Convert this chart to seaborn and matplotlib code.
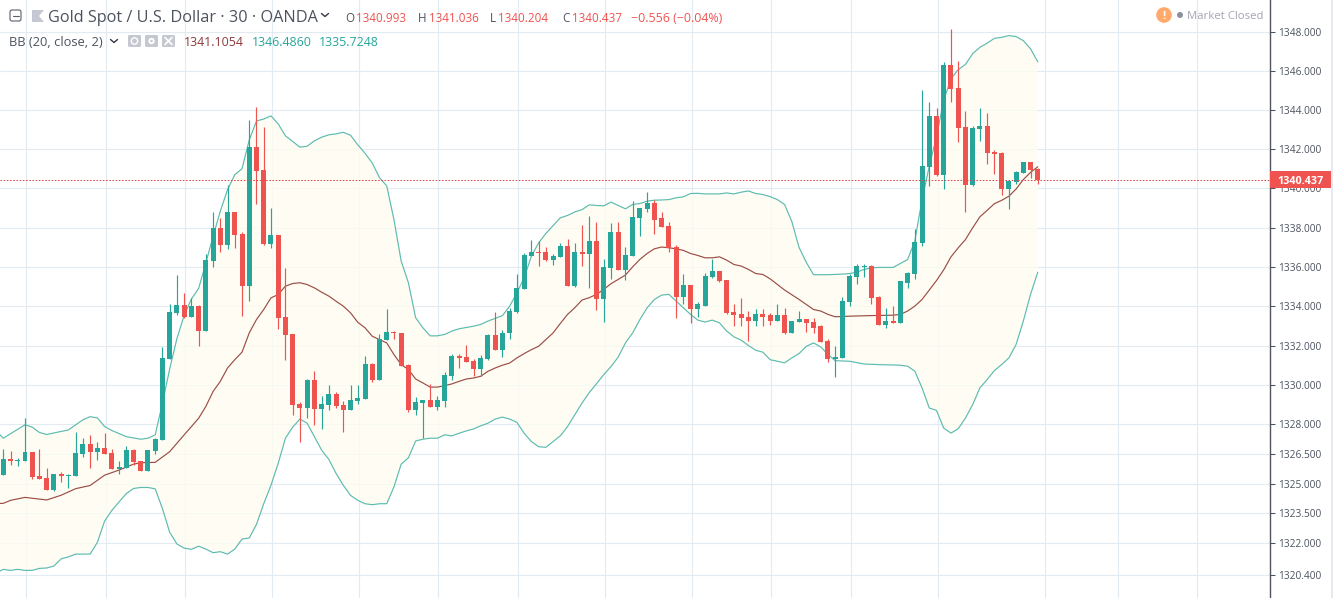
import numpy as np
import pandas as pd
import seaborn as sns
import matplotlib
matplotlib.use('Agg')
import matplotlib.pyplot as plt
from matplotlib.patches import Rectangle, Circle, Polygon, FancyBboxPatch
from matplotlib.ticker import NullLocator

# candles, one value per bar
opens = [1325.43, 1326.25, 1326.15, 1326.15, 1326.60, 1325.38, 1325.28, 1324.67, 1325.48, 1325.40,
         1325.38, 1326.50, 1327.01, 1326.60, 1326.81, 1326.55, 1325.74, 1325.79, 1326.71, 1326.15,
         1325.64, 1326.65, 1327.21, 1331.33, 1333.63, 1334.08, 1333.47, 1334.03, 1332.76, 1336.32,
         1338.00, 1337.09, 1338.82, 1337.65, 1335.00, 1342.13, 1340.96, 1337.14, 1337.60, 1333.47,
         1332.56, 1329.04, 1328.84, 1330.27, 1328.79, 1328.99, 1329.55, 1328.99, 1328.74, 1329.20,
         1329.30, 1331.08, 1330.27, 1332.30, 1332.71, 1332.66, 1331.03, 1328.74, 1329.10, 1329.25,
         1328.89, 1329.20, 1330.47, 1331.49, 1331.44, 1331.23, 1330.83, 1331.34, 1332.51, 1331.79,
         1332.61, 1333.68, 1334.85, 1336.53, 1336.78, 1336.78, 1336.33, 1336.48, 1337.04, 1335.05,
         1336.78, 1336.63, 1337.34, 1334.34, 1335.92, 1337.80, 1335.82, 1336.53, 1338.47, 1338.97,
         1339.28, 1338.47, 1338.06, 1336.99, 1334.44, 1335.10, 1333.88, 1334.03, 1335.46, 1335.77,
         1335.31, 1333.68, 1333.58, 1333.47, 1333.27, 1333.58, 1333.53, 1333.27, 1333.53, 1332.66,
         1333.17, 1333.37, 1333.17, 1332.97, 1332.25, 1331.29, 1331.39, 1334.19, 1335.46, 1335.97,
         1336.02, 1334.44, 1333.02, 1333.22, 1333.12, 1335.20, 1335.66, 1337.24, 1341.11, 1343.70,
         1340.70, 1346.30, 1345.13, 1343.14, 1340.19, 1343.04, 1343.19, 1341.87, 1341.82, 1339.99,
         1340.34, 1340.80, 1341.36, 1340.993]
highs = [1326.76, 1326.65, 1326.32, 1328.33, 1326.60, 1326.76, 1325.79, 1325.48, 1325.59, 1325.48,
         1327.62, 1327.32, 1327.47, 1327.11, 1327.57, 1326.76, 1326.15, 1326.91, 1326.76, 1326.15,
         1326.71, 1327.32, 1331.90, 1334.13, 1335.56, 1334.69, 1334.39, 1334.08, 1336.63, 1338.82,
         1338.51, 1340.19, 1338.82, 1337.80, 1343.50, 1344.16, 1343.15, 1339.02, 1337.60, 1335.92,
         1332.56, 1329.15, 1330.32, 1330.72, 1329.45, 1330.01, 1329.65, 1329.20, 1330.01, 1330.01,
         1331.49, 1331.13, 1332.56, 1333.88, 1332.76, 1332.66, 1331.08, 1329.40, 1329.25, 1330.06,
         1329.45, 1330.67, 1331.59, 1331.59, 1332.05, 1331.34, 1331.54, 1332.56, 1333.68, 1332.81,
         1333.93, 1335.66, 1336.73, 1337.39, 1337.34, 1336.99, 1336.63, 1337.19, 1337.40, 1337.19,
         1338.11, 1338.57, 1338.31, 1336.38, 1338.26, 1338.31, 1336.99, 1339.38, 1339.02, 1339.84,
         1339.43, 1338.82, 1338.31, 1337.09, 1335.66, 1335.10, 1334.19, 1335.71, 1336.38, 1335.77,
         1335.31, 1334.09, 1334.39, 1333.73, 1333.83, 1333.83, 1333.63, 1334.09, 1333.93, 1333.22,
         1333.73, 1333.37, 1333.42, 1333.02, 1332.35, 1331.95, 1334.49, 1335.66, 1336.12, 1336.17,
         1336.07, 1334.54, 1333.93, 1334.03, 1335.26, 1335.76, 1337.95, 1345.03, 1344.42, 1344.11,
         1346.45, 1348.18, 1346.50, 1343.96, 1343.19, 1344.11, 1343.86, 1341.97, 1341.87, 1340.39,
         1340.90, 1341.36, 1341.36, 1341.036]
lows = [1325.43, 1325.94, 1325.89, 1326.15, 1325.23, 1325.23, 1324.67, 1324.62, 1325.08, 1324.77,
        1325.38, 1326.35, 1325.79, 1326.20, 1326.50, 1325.74, 1325.48, 1325.79, 1325.94, 1325.64,
        1325.64, 1326.50, 1327.21, 1331.33, 1333.57, 1333.42, 1333.47, 1332.00, 1332.76, 1335.97,
        1336.78, 1336.93, 1336.98, 1333.52, 1334.24, 1339.23, 1337.09, 1336.98, 1332.86, 1331.28,
        1328.48, 1327.11, 1328.33, 1327.97, 1327.77, 1328.74, 1328.84, 1327.62, 1328.74, 1329.04,
        1329.30, 1330.16, 1330.27, 1332.30, 1332.35, 1330.98, 1328.64, 1328.48, 1327.31, 1328.89,
        1328.74, 1328.89, 1330.27, 1330.88, 1331.18, 1330.47, 1330.47, 1331.28, 1331.79, 1331.44,
        1332.35, 1333.63, 1334.85, 1336.53, 1336.02, 1336.28, 1336.07, 1336.48, 1335.00, 1334.95,
        1336.02, 1334.90, 1333.78, 1333.17, 1335.36, 1335.82, 1335.31, 1336.53, 1337.55, 1338.82,
        1337.65, 1338.01, 1336.78, 1333.42, 1334.09, 1333.12, 1333.47, 1334.03, 1335.41, 1335.21,
        1333.58, 1332.97, 1332.97, 1332.25, 1332.97, 1332.97, 1333.02, 1333.27, 1332.56, 1332.66,
        1333.17, 1332.71, 1332.66, 1332.20, 1331.18, 1330.42, 1331.39, 1334.03, 1335.15, 1335.46,
        1334.09, 1333.02, 1332.91, 1333.12, 1333.12, 1334.90, 1335.40, 1337.08, 1340.14, 1340.65,
        1339.99, 1344.42, 1342.38, 1338.82, 1340.14, 1342.43, 1341.26, 1340.75, 1339.68, 1338.97,
        1340.24, 1340.80, 1340.55, 1340.204]
closes = [1326.25, 1326.15, 1326.20, 1326.60, 1325.33, 1325.23, 1324.67, 1325.48, 1325.38, 1325.45,
          1326.55, 1327.01, 1326.60, 1326.81, 1326.50, 1325.74, 1325.84, 1326.71, 1326.09, 1325.64,
          1326.71, 1327.27, 1331.39, 1333.68, 1334.08, 1333.47, 1334.03, 1332.76, 1336.37, 1338.00,
          1337.09, 1338.82, 1337.60, 1335.00, 1342.13, 1340.91, 1337.14, 1337.60, 1333.42, 1332.51,
          1328.99, 1328.84, 1330.27, 1328.79, 1329.04, 1329.55, 1328.94, 1328.74, 1329.25, 1329.35,
          1331.08, 1330.27, 1332.35, 1332.71, 1332.61, 1330.98, 1328.74, 1329.15, 1329.25, 1328.89,
          1329.25, 1330.52, 1331.49, 1331.39, 1331.18, 1330.83, 1331.39, 1332.51, 1331.79, 1332.66,
          1333.73, 1334.90, 1336.58, 1336.78, 1336.73, 1336.33, 1336.53, 1337.04, 1335.05, 1336.78,
          1336.63, 1337.34, 1334.34, 1335.97, 1337.80, 1335.82, 1336.58, 1338.52, 1339.02, 1339.28,
          1338.41, 1338.01, 1336.94, 1334.44, 1335.10, 1333.88, 1334.09, 1335.51, 1335.77, 1335.26,
          1333.63, 1333.53, 1333.42, 1333.27, 1333.58, 1333.47, 1333.27, 1333.53, 1332.66, 1333.22,
          1333.37, 1333.12, 1332.91, 1332.20, 1331.29, 1331.44, 1334.24, 1335.51, 1336.02, 1336.02,
          1334.39, 1333.02, 1333.22, 1333.12, 1335.26, 1335.71, 1337.29, 1341.16, 1343.70, 1340.70,
          1346.30, 1345.08, 1343.09, 1340.19, 1343.09, 1343.19, 1341.82, 1341.77, 1339.99, 1340.39,
          1340.85, 1341.36, 1340.95, 1340.437]

# bollinger bands, read at the bars where the line bends
upper_bar = [-1, 0, 3, 4, 5, 6, 9, 11, 12, 13, 14, 15, 17, 19, 20, 21, 22, 23, 24, 25, 26, 27, 28, 29, 30,
             31, 32, 33, 34, 35, 36, 37, 38, 39, 40, 41, 42, 43, 44, 45, 46, 47, 48, 49, 50, 51, 52, 53,
             54, 55, 56, 57, 58, 59, 60, 61, 62, 63, 65, 66, 67, 69, 70, 71, 72, 73, 74, 75, 77, 78, 79,
             80, 81, 82, 83, 84, 85, 86, 87, 88, 89, 90, 91, 92, 93, 94, 95, 96, 97, 98, 99, 100, 101,
             102, 103, 104, 105, 106, 107, 108, 109, 110, 111, 112, 114, 116, 117, 118, 119, 120, 121,
             123, 124, 125, 126, 127, 128, 129, 130, 131, 132, 133, 134, 135, 136, 137, 138, 139, 140,
             141, 142, 143]
upper = [1327.68, 1327.30, 1327.98, 1327.86, 1327.59, 1327.49, 1327.72, 1328.23, 1328.39, 1328.33, 1327.89,
         1327.69, 1327.38, 1327.25, 1327.30, 1327.47, 1329.08, 1330.81, 1332.35, 1333.53, 1334.36, 1334.90,
         1336.20, 1337.56, 1338.84, 1339.94, 1340.70, 1341.01, 1342.48, 1343.45, 1343.55, 1343.71, 1343.30,
         1342.69, 1342.40, 1342.11, 1342.16, 1342.43, 1342.62, 1342.74, 1342.79, 1342.87, 1342.72, 1342.23,
         1341.80, 1341.30, 1340.55, 1340.13, 1338.41, 1336.29, 1335.19, 1333.41, 1332.90, 1332.49, 1332.49,
         1332.56, 1332.73, 1332.85, 1332.98, 1333.07, 1333.24, 1333.52, 1334.00, 1334.68, 1335.44, 1336.55,
         1337.22, 1337.70, 1338.50, 1338.62, 1338.80, 1338.92, 1339.16, 1339.13, 1339.11, 1339.30, 1339.13,
         1338.96, 1339.18, 1339.23, 1339.35, 1339.40, 1339.41, 1339.43, 1339.52, 1339.57, 1339.74, 1339.75,
         1339.72, 1339.72, 1339.72, 1339.77, 1339.72, 1339.81, 1339.87, 1339.74, 1339.69, 1339.58, 1339.43,
         1339.18, 1338.31, 1336.99, 1336.23, 1335.60, 1335.60, 1335.63, 1335.66, 1335.73, 1335.87, 1335.95,
         1335.97, 1335.97, 1336.17, 1336.37, 1337.31, 1339.43, 1341.13, 1342.65, 1344.52, 1345.62, 1346.08,
         1346.35, 1346.90, 1347.23, 1347.44, 1347.69, 1347.74, 1347.83, 1347.78, 1347.57, 1347.15, 1346.486]

basis_bar = [-1, 0, 1, 3, 6, 8, 10, 12, 14, 16, 18, 19, 21, 23, 25, 27, 28, 29, 30, 31, 32, 33, 34, 35, 36,
             37, 38, 39, 40, 41, 42, 43, 44, 45, 46, 47, 48, 49, 50, 51, 52, 53, 54, 55, 56, 57, 58, 59,
             60, 61, 62, 63, 64, 65, 66, 67, 68, 69, 70, 71, 72, 73, 74, 75, 76, 77, 78, 79, 80, 81, 82,
             83, 84, 85, 86, 87, 88, 89, 90, 91, 92, 93, 94, 95, 96, 97, 98, 99, 100, 101, 102, 103, 104,
             105, 106, 108, 110, 112, 113, 114, 115, 117, 120, 123, 124, 125, 126, 127, 128, 129, 130,
             131, 132, 133, 134, 135, 136, 137, 138, 139, 140, 141, 142, 143]
basis = [1324.00, 1324.01, 1324.16, 1324.31, 1324.18, 1324.42, 1324.75, 1324.91, 1325.43, 1325.69, 1325.99,
         1326.06, 1326.08, 1326.62, 1327.47, 1328.31, 1328.91, 1329.67, 1330.18, 1330.86, 1331.28, 1331.66,
         1332.64, 1333.32, 1333.83, 1334.42, 1334.59, 1335.02, 1335.15, 1335.19, 1335.10, 1334.93, 1334.71,
         1334.51, 1334.25, 1334.00, 1333.66, 1333.18, 1332.90, 1332.47, 1332.30, 1332.13, 1331.54, 1331.03,
         1330.78, 1330.30, 1330.10, 1329.89, 1329.89, 1329.96, 1330.05, 1330.18, 1330.30, 1330.35, 1330.44,
         1330.69, 1330.86, 1331.00, 1331.11, 1331.37, 1331.59, 1331.79, 1331.96, 1332.30, 1332.64, 1333.12,
         1333.58, 1333.92, 1334.31, 1334.43, 1334.60, 1334.85, 1335.14, 1335.36, 1335.58, 1336.00, 1336.38,
         1336.68, 1336.92, 1337.01, 1336.97, 1336.92, 1336.84, 1336.68, 1336.58, 1336.46, 1336.46, 1336.51,
         1336.34, 1336.12, 1336.04, 1335.87, 1335.66, 1335.61, 1335.39, 1334.82, 1334.34, 1333.83, 1333.75,
         1333.58, 1333.46, 1333.49, 1333.52, 1333.54, 1333.58, 1333.75, 1334.00, 1334.34, 1334.82, 1335.30,
         1335.85, 1336.51, 1336.97, 1337.39, 1337.99, 1338.55, 1338.88, 1339.22, 1339.39, 1339.60, 1339.97,
         1340.45, 1340.82, 1341.1054]

lower_bar = [-1, 0, 1, 2, 3, 4, 5, 6, 7, 8, 9, 10, 12, 13, 14, 15, 16, 17, 18, 19, 20, 21, 22, 23, 24, 25,
             26, 27, 28, 29, 30, 31, 32, 33, 34, 35, 36, 37, 38, 39, 40, 41, 42, 43, 44, 45, 46, 47, 48,
             49, 50, 51, 52, 53, 54, 55, 56, 57, 58, 59, 60, 61, 62, 63, 64, 65, 66, 67, 68, 69, 70, 71,
             72, 73, 74, 75, 76, 77, 78, 79, 80, 81, 82, 83, 84, 85, 86, 87, 88, 89, 90, 91, 92, 93, 94,
             95, 96, 97, 98, 99, 100, 101, 102, 103, 104, 105, 106, 107, 108, 109, 110, 111, 112, 113,
             114, 115, 117, 119, 121, 123, 124, 125, 126, 127, 128, 129, 130, 131, 132, 133, 134, 135,
             136, 137, 138, 139, 140, 141, 142, 143]
lower = [1320.50, 1320.68, 1320.63, 1320.68, 1320.63, 1320.63, 1320.73, 1320.75, 1320.85, 1321.21, 1321.31,
         1321.45, 1321.45, 1322.04, 1323.11, 1323.65, 1324.08, 1324.50, 1324.76, 1324.81, 1324.81, 1324.74,
         1323.74, 1322.55, 1321.96, 1321.75, 1321.69, 1321.85, 1321.70, 1321.52, 1321.57, 1321.45, 1321.70,
         1322.21, 1322.26, 1322.95, 1323.99, 1324.92, 1326.03, 1327.30, 1327.86, 1328.27, 1328.06, 1327.38,
         1326.70, 1326.23, 1325.52, 1324.92, 1324.41, 1324.16, 1323.99, 1323.94, 1323.99, 1323.99, 1324.84,
         1325.99, 1326.31, 1327.16, 1327.25, 1327.30, 1327.30, 1327.47, 1327.42, 1327.55, 1327.67, 1327.77,
         1327.93, 1328.06, 1328.27, 1328.37, 1328.27, 1328.10, 1327.55, 1327.13, 1326.87, 1326.84, 1327.13,
         1327.42, 1327.89, 1328.49, 1329.08, 1329.61, 1330.06, 1330.52, 1330.93, 1331.41, 1332.13, 1332.64,
         1333.32, 1333.92, 1334.34, 1334.56, 1334.60, 1334.26, 1333.92, 1333.58, 1333.29, 1333.19, 1333.29,
         1333.15, 1332.73, 1332.44, 1332.27, 1332.00, 1331.76, 1331.66, 1331.28, 1331.20, 1331.12, 1331.37,
         1331.59, 1331.96, 1332.13, 1331.93, 1331.54, 1331.23, 1331.20, 1331.06, 1331.03, 1331.01, 1331.00,
         1330.95, 1330.70, 1329.85, 1328.83, 1328.71, 1327.81, 1327.56, 1327.78, 1328.32, 1329.00, 1329.85,
         1330.27, 1330.73, 1331.03, 1331.37, 1332.05, 1333.24, 1334.60, 1335.7248]

price_ticks = [1348, 1346, 1344, 1342, 1340, 1338, 1336, 1334, 1332, 1330, 1328, 1326.5, 1325, 1323.5, 1322, 1320.4]
price_labels = ['1348.000', '1346.000', '1344.000', '1342.000', '1340.000', '1338.000', '1336.000', '1334.000',
                '1332.000', '1330.000', '1328.000', '1326.500', '1325.000', '1323.500', '1322.000', '1320.400']
time_grid = [3.15, 14.15, 25.15, 37.15, 49.15, 60.15, 71.15, 83.15, 95.15, 106.15, 117.15, 129.15, 144.05, 154.1, 165.05]

last_price = 1340.437
up_color = '#26a69a'
down_color = '#ef5350'
band_color = '#5cbbb0'
basis_color = '#9a4d46'
grid_color = '#e2ebf1'
text_grey = '#4c525e'
ui_font = 'Open Sans'

W, H = 1333, 598
sns.set_style('white')
plt.rcParams['font.family'] = [ui_font, 'DejaVu Sans']

candles = pd.DataFrame({'open': opens, 'high': highs, 'low': lows, 'close': closes})
candles['bar'] = np.arange(len(candles))
candles['color'] = np.where(candles['close'] >= candles['open'], up_color, down_color)

fig = plt.figure(figsize=(W / 100, H / 100), dpi=100, facecolor='white')
ax = fig.add_axes([0, 0, 1270 / W, 1])

# axis first, everything else goes on top of the grid
ax.set_yscale('log')
ax.set_xlim(-0.456, 175.1)
ax.set_ylim(1319.24, 1349.66)
ax.set_xticks(time_grid)
ax.set_yticks(price_ticks, labels=price_labels)
ax.yaxis.set_minor_locator(NullLocator())
ax.yaxis.tick_right()
ax.tick_params(axis='x', length=0, labelbottom=False)
ax.tick_params(axis='y', length=3.4, width=0.75, color=text_grey, labelcolor=text_grey, labelsize=7.3, pad=2.6)
ax.grid(True, color=grid_color, lw=0.8)
ax.set_axisbelow(True)
for side in ['left', 'top', 'bottom']:
    ax.spines[side].set_visible(False)
ax.spines['right'].set_color('#50535e')
ax.spines['right'].set_linewidth(1.0)

# band background
ax.fill(upper_bar + lower_bar[::-1], upper + lower[::-1], color='#fffdf0', alpha=0.75, lw=0, zorder=1)
sns.lineplot(x=upper_bar, y=upper, ax=ax, color=band_color, lw=0.85, zorder=2, errorbar=None)
sns.lineplot(x=lower_bar, y=lower, ax=ax, color=band_color, lw=0.85, zorder=2, errorbar=None)
sns.lineplot(x=basis_bar, y=basis, ax=ax, color=basis_color, lw=0.85, zorder=2, errorbar=None)

ax.vlines(candles['bar'], candles['low'], candles['high'], colors=candles['color'], lw=0.85, zorder=3)
body_low = candles[['open', 'close']].min(axis=1)
body_size = (candles['close'] - candles['open']).abs().clip(lower=0.05)
ax.bar(candles['bar'], body_size, bottom=body_low, width=0.69, color=candles['color'], lw=0, zorder=4)

ax.axhline(last_price, color='#d9484a', lw=0.72, ls=(0, (1.6, 1.6)), zorder=5)
ax.set_xlim(-0.456, 175.1)
ax.set_ylim(1319.24, 1349.66)
ax.set_xlabel('')
ax.set_ylabel('')

# overlay in pixels for the header and the widgets of the chart window
ui = fig.add_axes([0, 0, 1, 1], facecolor='none')
ui.set_xlim(0, W)
ui.set_ylim(H, 0)
ui.axis('off')


def put(x, y, s, color=text_grey, size=8, weight='normal', ha='left'):
    ui.text(x, y, s, color=color, fontsize=size, fontweight=weight, ha=ha, va='center_baseline')


def chevron(x, y):
    ui.plot([x - 3.5, x, x + 3.5], [y - 1.5, y + 1.5, y - 1.5], color='#333842', lw=1)


ui.add_patch(Rectangle((1331, 0), 2, H, color='#e6e8f0', lw=0))
ui.add_patch(Rectangle((1270, 171), 61, 17, color=down_color, lw=0))
put(1300.5, 179.5, '1340.437', color='white', size=7.8, weight='bold', ha='center')

ui.add_patch(FancyBboxPatch((10, 10), 11, 11, boxstyle='round,pad=0,rounding_size=2', fc='white', ec='#5a5e69', lw=0.8))
ui.plot([12.5, 18.5], [15.5, 15.5], color='#5a5e69', lw=0.8)
ui.add_patch(Polygon([(32, 10), (44, 10), (39, 16), (44, 22), (32, 22)], color='#c5c8d0', lw=0))

put(48, 16, 'Gold Spot / U.S. Dollar · 30 · OANDA', size=11.7, weight='medium')
chevron(325, 15)
put(345, 17, 'O', size=8.4)
put(356, 17, '1340.993', color=down_color, size=8.4)
put(418, 17, 'H', size=8.4)
put(429, 17, '1341.036', color=down_color, size=8.4)
put(490, 17, 'L', size=8.4)
put(498, 17, '1340.204', color=down_color, size=8.4)
put(562, 17, 'C', size=8.4)
put(572, 17, '1340.437', color=down_color, size=8.4)
put(631, 17, '−0.556 (−0.04%)', color=down_color, size=8.9)

put(9, 41, 'BB (20, close, 2)', size=9.3)
chevron(114, 41)
for box_x in [128, 145, 162]:
    ui.add_patch(FancyBboxPatch((box_x, 35), 13, 12, boxstyle='round,pad=0,rounding_size=1.5', color='#c5c8d0', lw=0))
ui.add_patch(Circle((134.5, 41), 3.2, fc='none', ec='white', lw=1))
ui.add_patch(Circle((151.5, 41), 3.2, fc='white', ec='none'))
ui.add_patch(Circle((151.5, 41), 1.2, fc='#c5c8d0', ec='none'))
ui.plot([165, 172], [37.5, 44.5], color='white', lw=1.2)
ui.plot([165, 172], [44.5, 37.5], color='white', lw=1.2)
put(184, 41, '1341.1054', color='#8e3a3a', size=8.9)
put(252, 41, '1346.4860', color=up_color, size=8.9)
put(319, 41, '1335.7248', color=up_color, size=8.9)

ui.add_patch(Circle((1164, 15), 7.8, color='#ffa96b', lw=0))
put(1164, 15, '!', color='white', size=8, weight='bold', ha='center')
ui.add_patch(Circle((1180, 15), 3, color='#8d9099', lw=0))
put(1187, 15, 'Market Closed', color='#a3a6af', size=8.2)

fig.savefig('out.png', dpi=100)
